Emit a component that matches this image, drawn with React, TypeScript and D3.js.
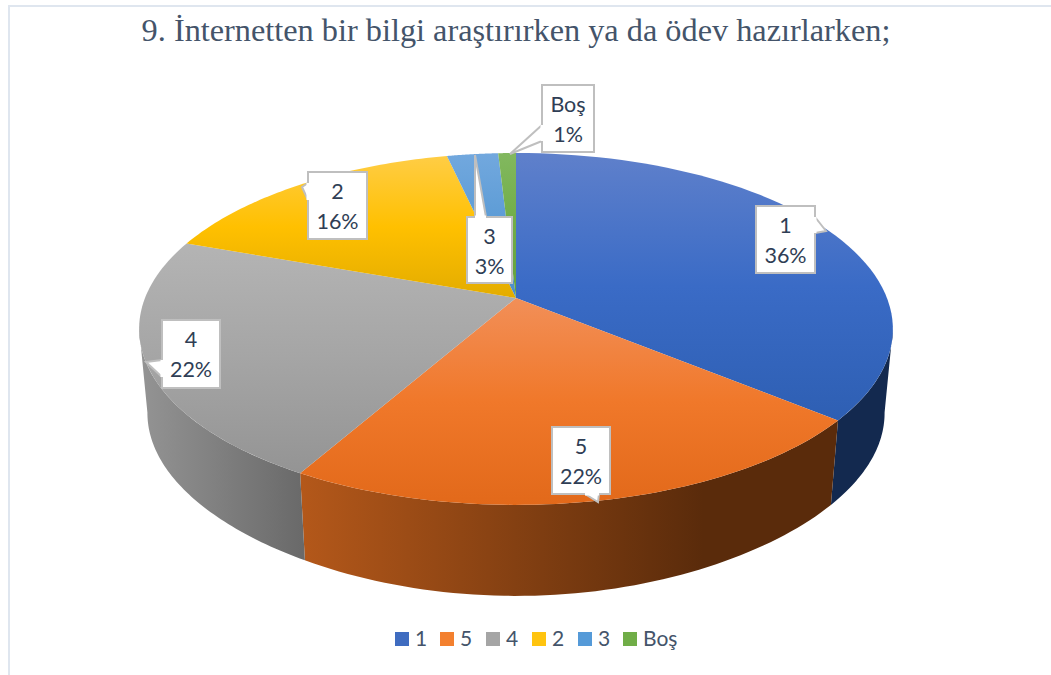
import React from 'react';
import * as d3 from 'd3';

const title = '9. İnternetten bir bilgi araştırırken ya da ödev hazırlarken;';
const categories = ['1', '5', '4', '2', '3', 'Boş'];
const shares = [36, 22.2, 22.3, 16, 2.6, 0.9];

// top colour, middle, bottom of each top face
const faceColors = [
    ['#5f80cb', '#3a6bc6', '#2e5fb3'],
    ['#f28f58', '#f0782a', '#e2691a'],
    ['#b4b4b4', '#a5a5a5', '#949494'],
    ['#ffcd45', '#ffc000', '#e3ac00'],
    ['#72a8de', '#5b9bd5', '#4b8ccb'],
    ['#82b85f', '#70ad47', '#62a03b'],
];
const wallColors = [
    ['#13294f', '#13294f'],
    ['#b4581a', '#5a2b0b'],
    ['#949494', '#696969'],
    ['#8a6a00', '#8a6a00'],
    ['#2d5f8e', '#2d5f8e'],
    ['#44692b', '#44692b'],
];
const legendColors = ['#3f6cc0', '#f3802f', '#a5a5a5', '#ffc40f', '#559ad8', '#70ad47'];

// callout boxes: [left, top, right, bottom], tip and the two base points of the tail
const callouts = [
    { box: [756, 206, 815, 273], tip: [826, 231], base: [[815, 217], [815, 233]] },
    { box: [552, 427, 610, 494], tip: [598, 502], base: [[585, 494], [599, 494]] },
    { box: [162, 320, 220, 388], tip: [146, 362], base: [[162, 360], [162, 377]] },
    { box: [308, 172, 367, 239], tip: [302, 187], base: [[308, 183], [308, 200]] },
    { box: [467, 217, 512, 283], tip: [475, 155], base: [[475, 217], [486, 217]] },
    { box: [542, 85, 594, 152], tip: [510, 154], base: [[542, 125], [542, 141]] },
];

const legendX = [395, 440, 486, 532, 578, 623];

const width = 1051;
const height = 675;
const cx = 516;
const cy = 298;
const persp = 0.176;
const radiusX = 371;
const radiusY = 170.5;

// unit circle to the tilted disc, with angle 0 at the top going clockwise
const topPoint = (a: number): [number, number] => {
    const w = 1 + persp * Math.cos(a);
    return [cx + (radiusX * Math.sin(a)) / w, cy - (radiusY * Math.cos(a)) / w];
};

// the rim underneath is a bit narrower and the wall gets taller towards the viewer
const bottomPoint = (a: number): [number, number] => {
    const [x, y] = topPoint(a);
    const t = Math.max(0, (y - cy - 31) / 176);
    return [cx + (x - cx) * 0.978, y + 84 + 7 * t ** 4];
};

const line = d3.line();

const sample = (a0: number, a1: number, fn: (a: number) => [number, number]) =>
    d3.range(0, 61).map(i => fn(a0 + ((a1 - a0) * i) / 60));

const pieData = d3
    .pie<number>()
    .sort(null)
    .value(d => d)(shares);

const pct = d3.format('.0f');

// walls run between the two silhouette points of the disc
const wallLimit: [number, number] = [(100 * Math.PI) / 180, (260 * Math.PI) / 180];

const App = () => {
    const walls = pieData
        .map((d, i) => {
            const a0 = Math.max(d.startAngle, wallLimit[0]);
            const a1 = Math.min(d.endAngle, wallLimit[1]);
            if (a1 <= a0) return null;
            const top = sample(a0, a1, topPoint);
            const bottom = sample(a1, a0, bottomPoint);
            const xs = [...top, ...bottom].map(p => p[0]);
            return { i, path: line([...top, ...bottom]) + 'Z', x0: d3.min(xs), x1: d3.max(xs) };
        })
        .filter(Boolean) as { i: number; path: string; x0: number; x1: number }[];

    return (
        <svg
            width={width}
            height={height}
            style={{ position: 'absolute', left: 0, top: 0, display: 'block', background: '#fff' }}
        >
            <defs>
                {faceColors.map((c, i) => (
                    <linearGradient key={i} id={`face${i}`} x1="0" y1="0" x2="0" y2="1">
                        <stop offset="0" stopColor={c[0]} />
                        <stop offset="0.5" stopColor={c[1]} />
                        <stop offset="1" stopColor={c[2]} />
                    </linearGradient>
                ))}
                {walls.map(w => (
                    <linearGradient
                        key={w.i}
                        id={`wall${w.i}`}
                        gradientUnits="userSpaceOnUse"
                        x1={w.x0}
                        y1="0"
                        x2={w.i === 1 ? w.x0 + (w.x1 - w.x0) * 0.75 : w.x1}
                        y2="0"
                    >
                        <stop offset="0" stopColor={wallColors[w.i][0]} />
                        <stop offset="1" stopColor={wallColors[w.i][1]} />
                    </linearGradient>
                ))}
            </defs>

            <line x1={8.5} y1={6} x2={width} y2={6} stroke="#dfe6ef" strokeWidth={2} />
            <line x1={9} y1={5} x2={9} y2={height} stroke="#dfe6ef" strokeWidth={2} />

            <text x={516} y={41} textAnchor="middle" fontFamily="'Liberation Serif'" fontSize={32.3} fill="#44546a">
                {title}
            </text>

            <g>
                {walls.map(w => (
                    <path key={w.i} d={w.path} fill={`url(#wall${w.i})`} />
                ))}
            </g>

            <g>
                {pieData.map((d, i) => (
                    <path
                        key={i}
                        d={line([[cx, cy], ...sample(d.startAngle, d.endAngle, topPoint)]) + 'Z'}
                        fill={`url(#face${i})`}
                    />
                ))}
            </g>

            <g fontFamily="Lato" fontSize={21.5} fill="#2f3e55" textAnchor="middle">
                {callouts.map((c, i) => {
                    const [x0, y0, x1, y1] = c.box;
                    const mid = (x0 + x1) / 2;
                    return (
                        <g key={i}>
                            <path
                                d={line([c.base[0], c.tip, c.base[1]] as [number, number][]) as string}
                                fill="#fff"
                                stroke="#bfbfbf"
                                strokeWidth={2}
                            />
                            <rect x={x0} y={y0} width={x1 - x0} height={y1 - y0} fill="#fff" stroke="#bfbfbf" strokeWidth={2} />
                            <path
                                d={line([c.base[0], c.base[1]] as [number, number][]) as string}
                                stroke="#fff"
                                strokeWidth={3}
                            />
                            <text x={mid} y={y0 + 27}>{categories[i]}</text>
                            <text x={mid} y={y0 + 57}>{pct(shares[i])}%</text>
                        </g>
                    );
                })}
            </g>

            <g fontFamily="Lato" fontSize={21} fill="#44546a">
                {categories.map((c, i) => (
                    <g key={c}>
                        <rect x={legendX[i]} y={632} width={14} height={14} fill={legendColors[i]} />
                        <text x={legendX[i] + 20} y={646}>{c}</text>
                    </g>
                ))}
            </g>
        </svg>
    );
};

export default App;
